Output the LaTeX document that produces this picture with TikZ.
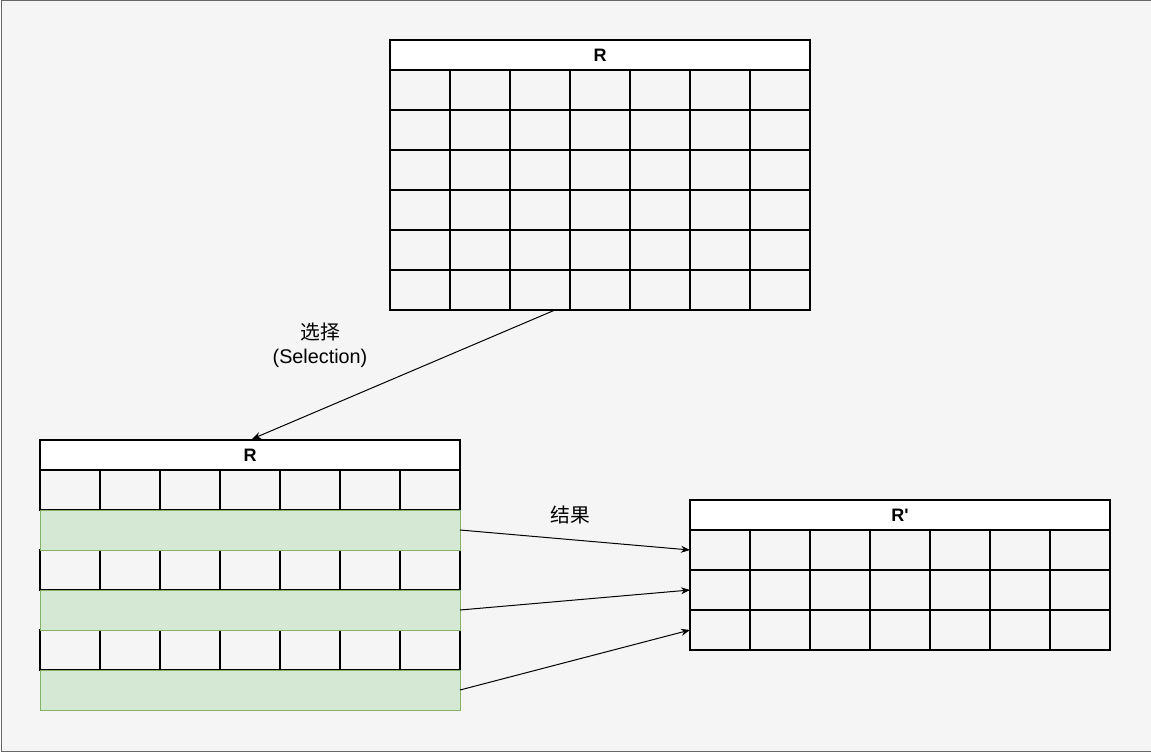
\documentclass[tikz,border=0pt]{standalone}
\usepackage{fontspec}
\setmainfont{Liberation Sans}
\newfontfamily\cjk{Noto Sans CJK SC}
\usetikzlibrary{arrows.meta,calc}
\definecolor{bgc}{HTML}{F5F5F5}
\definecolor{bgb}{HTML}{666666}
\definecolor{gfill}{HTML}{D5E8D4}
\definecolor{gdraw}{HTML}{82B366}
\begin{document}
\begin{tikzpicture}[x=1pt,y=-1pt,
 cell/.style={draw=black,line width=1.3pt,minimum width=60pt,minimum height=40pt,inner sep=0pt,outer sep=0pt,anchor=north west},
 hdr/.style={draw=black,fill=white,line width=1.3pt,minimum width=420pt,minimum height=30pt,inner sep=0pt,outer sep=0pt,anchor=north west,font=\bfseries\fontsize{18}{20}\selectfont},
 selrow/.style={draw=gdraw,fill=gfill,line width=1pt,minimum width=420pt,minimum height=40pt,inner sep=0pt,outer sep=0pt,anchor=north west},
 conn/.style={line width=1pt,-{Stealth[length=9pt,width=7pt]}},
 lbl/.style={font=\fontsize{19.8}{24}\selectfont,align=center}]
\useasboundingbox (0,0) rectangle (1151,752);
\node[draw=bgb,fill=bgc,line width=1pt,minimum width=1150pt,minimum height=750pt,anchor=north west,inner sep=0pt] (bg) at (0.5,0.5) {};
% top table
\node[hdr] (th) at (390,40) {R};
\foreach \r in {1,...,6} \foreach \c in {1,...,7}
  \node[cell] (t\r-\c) at ({390+60*(\c-1)},{70+40*(\r-1)}) {};
% bottom-left table
\node[hdr] (bh) at (40,440) {R};
\foreach \r in {1,3,5} \foreach \c in {1,...,7}
  \node[cell] (b\r-\c) at ({40+60*(\c-1)},{470+40*(\r-1)}) {};
\node[selrow] (g2) at (40,510) {};
\node[selrow] (g4) at (40,590) {};
\node[selrow] (g6) at (40,670) {};
% right table
\node[hdr] (ph) at (690,500) {R\textquotesingle};
\foreach \r in {1,2,3} \foreach \c in {1,...,7}
  \node[cell] (p\r-\c) at ({690+60*(\c-1)},{530+40*(\r-1)}) {};
% labels
\node[lbl] (sellbl) at (320,345) {{\cjk 选择}\\(Selection)};
\node[lbl] (reslbl) at (570,515) {\cjk 结果};
% connectors
\draw[conn] ($(t6-3.south west)!0.75!(t6-3.south east)$) -- ($(bh.north)+(2,-1)$);
\draw[conn] (g2.east) -- (p1-1.west);
\draw[conn] (g4.east) -- (p2-1.west);
\draw[conn] (g6.east) -- (p3-1.west);
\end{tikzpicture}
\end{document}
